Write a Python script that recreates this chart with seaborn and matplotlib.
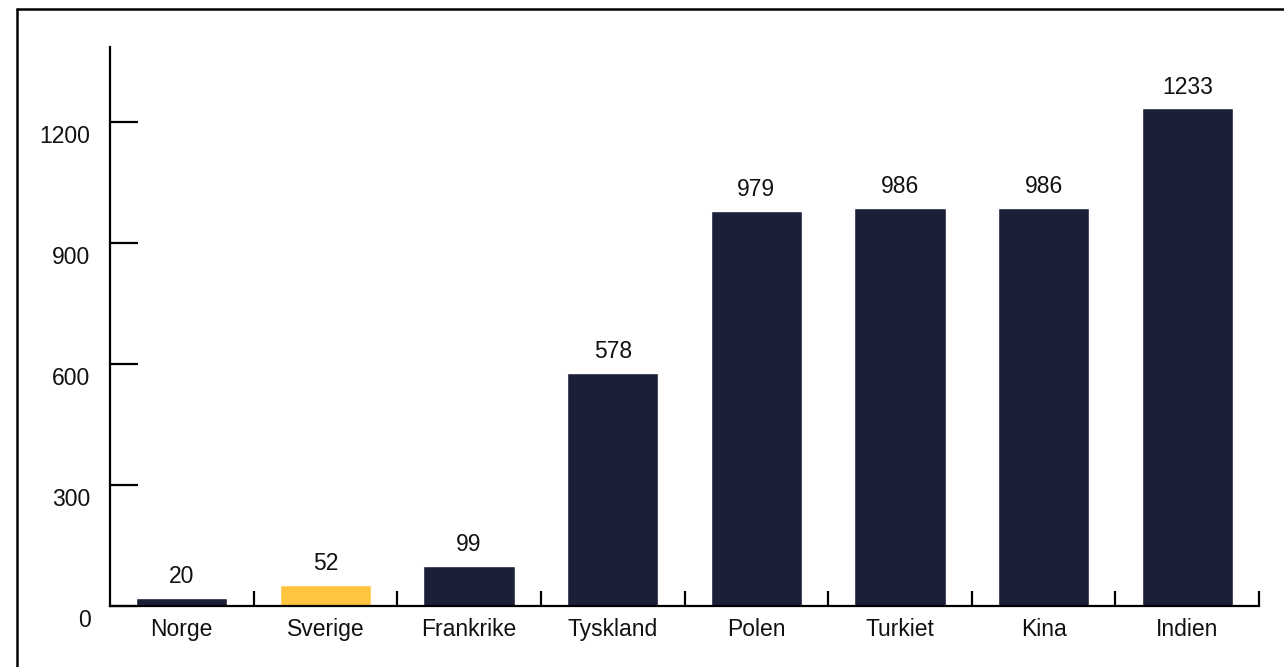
import matplotlib
matplotlib.use("Agg")
import matplotlib.pyplot as plt
import matplotlib.transforms as mtransforms
from matplotlib.lines import Line2D
import seaborn as sns

countries = ["Norge", "Sverige", "Frankrike", "Tyskland", "Polen", "Turkiet", "Kina", "Indien"]
values = [20, 52, 99, 578, 979, 986, 986, 1233]
y_ticks = [0, 300, 600, 900, 1200]

navy = "#1c1f38"
yellow = "#ffc53f"
colors = [yellow if c == "Sverige" else navy for c in countries]

sns.set_style("white")
plt.rcParams["font.family"] = ["Liberation Sans", "DejaVu Sans"]

fig = plt.figure(figsize=(12.84, 6.67), dpi=100)
ax = fig.add_axes([110 / 1284, 1 - 606 / 667, 1149 / 1284, 559 / 667])

sns.barplot(x=countries, y=values, hue=countries, palette=colors,
            width=0.635, legend=False, saturation=1, ax=ax)

for cont in ax.containers:
    ax.bar_label(cont, padding=7, fontsize=16.5, color="#111111")

ax.set_xlim(-0.5, len(countries) - 0.5)
ax.set_ylim(0, 1385)
ax.set_xlabel("")
ax.set_ylabel("")

sns.despine(ax=ax)
for s in ["left", "bottom"]:
    ax.spines[s].set_linewidth(1.6)
    ax.spines[s].set_color("black")

# y ticks pointing inward, labels a bit below the tick
ax.set_yticks(y_ticks)
ax.tick_params(axis="y", left=True, direction="in", length=20, width=1.6,
               color="black", labelsize=16.5, labelcolor="#111111", pad=14)
off = mtransforms.ScaledTranslation(0, -12 / 100, fig.dpi_scale_trans)
for lab in ax.get_yticklabels():
    lab.set_transform(lab.get_transform() + off)

# x: small ticks between categories, labels at the centres
ax.set_xticks([i + 0.5 for i in range(len(countries))])
ax.set_xticklabels([])
ax.tick_params(axis="x", which="major", bottom=True, direction="in", length=10.5,
               width=1.6, color="black")
ax.set_xticks(range(len(countries)), minor=True)
ax.set_xticklabels(countries, minor=True)
ax.tick_params(axis="x", which="minor", bottom=True, length=0, labelsize=16.5,
               labelcolor="#111111", pad=8.5)

# frame around the figure (top and left visible)
fig.add_artist(Line2D([17 / 1284, 1.0], [1 - 9 / 667, 1 - 9 / 667], color="black", lw=1.8))
fig.add_artist(Line2D([17 / 1284, 17 / 1284], [0, 1 - 9 / 667], color="black", lw=1.8))

fig.savefig("out.png", dpi=100)
